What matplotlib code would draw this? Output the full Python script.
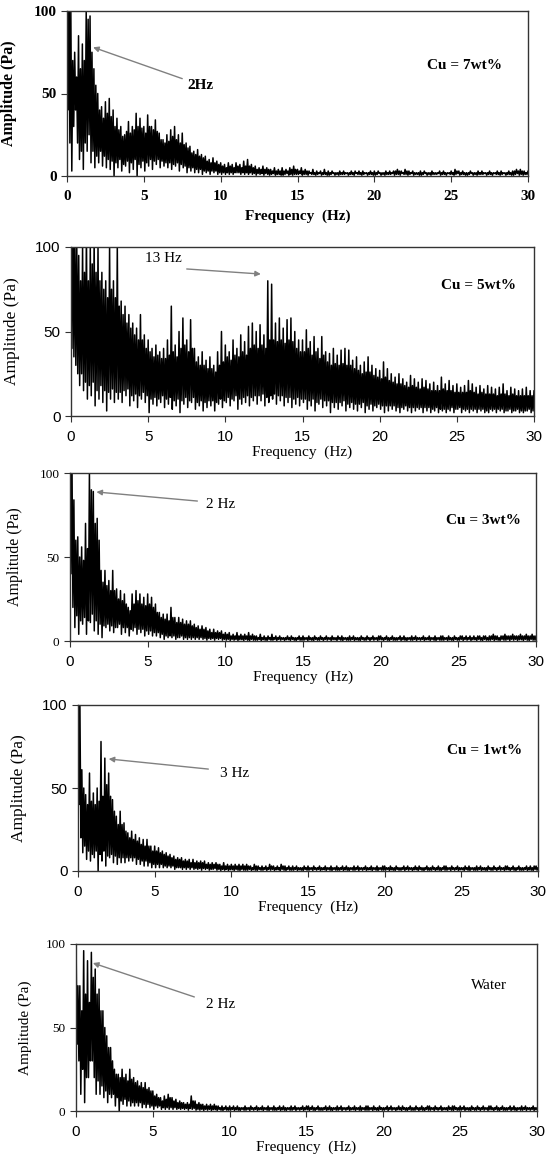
import numpy as np
import matplotlib
matplotlib.use("Agg")
import matplotlib.pyplot as plt

SERIF = "Liberation Serif"
SANS = "Liberation Sans"

# spectrum: max / min amplitude (Pa) in each 0.125 Hz bin,
# one row per 1 Hz (0..29 Hz), then the value at 30 Hz
STEP = 0.125

cu7_hi = [150, 120, 100, 70, 75, 60, 85, 65,
          80, 70, 100, 95, 97, 75, 65, 55,
          50, 40, 42, 35, 45, 38, 47, 36,
          40, 30, 35, 28, 30, 24, 25, 27,
          33, 26, 30, 28, 38, 30, 35, 29,
          30, 26, 37, 30, 30, 28, 34, 27,
          26, 22, 22, 20, 25, 21, 28, 24,
          30, 22, 25, 20, 26, 19, 20, 17,
          18, 14, 15, 13, 16, 12, 13, 11,
          12, 9, 10, 8, 11, 8, 9, 7,
          8, 6, 7, 5, 8, 6, 7, 5,
          8, 6, 7, 5, 9, 6, 10, 6,
          7, 5, 6, 4, 5, 4, 6, 4,
          5, 4, 4, 3, 5, 3, 4, 3,
          5, 3, 4, 3, 5, 4, 6, 4,
          4, 3, 5, 3, 4, 3, 3, 2,
          4, 2, 3, 2, 3, 2, 4, 2,
          3, 2, 3, 2, 2, 2, 3, 2,
          3, 2, 2, 2, 3, 2, 3, 2,
          3, 2, 3, 2, 2, 2, 3, 2,
          3, 2, 3, 2, 2, 2, 3, 2,
          3, 2, 3, 3, 4, 3, 3, 2,
          4, 3, 3, 2, 3, 2, 2, 2,
          3, 2, 3, 2, 2, 2, 3, 2,
          2, 2, 3, 2, 3, 2, 2, 2,
          3, 2, 4, 3, 3, 2, 3, 2,
          2, 2, 3, 2, 2, 2, 3, 2,
          3, 2, 2, 2, 3, 2, 2, 2,
          3, 2, 3, 2, 2, 2, 3, 2,
          3, 3, 4, 3, 4, 3, 3, 2,
          3]
cu7_lo = [40, 20, 3, 30, 40, 20, 10, 15,
          4, 20, 15, 25, 8, 15, 5, 12,
          8, 15, 6, 12, 5, 10, 4, 9,
          0, 8, 5, 10, 3, 7, 6, 9,
          2, 8, 4, 10, 0, 7, 5, 9,
          3, 8, 6, 10, 4, 9, 7, 10,
          5, 9, 6, 8, 5, 8, 4, 7,
          6, 8, 3, 7, 5, 6, 2, 5,
          3, 5, 2, 4, 2, 4, 1, 3,
          2, 3, 1, 3, 2, 3, 1, 2,
          1, 2, 1, 2, 1, 2, 1, 2,
          2, 2, 1, 2, 1, 2, 1, 2,
          1, 1.5, 0.5, 1.5, 1, 1.5, 0.5, 1.5,
          1, 0.5, 1, 1.5, 0.5, 1, 1, 0.5,
          0.5, 1, 1.5, 0.5, 1, 0.5, 1, 1,
          1, 1.5, 0.5, 1, 1, 0.5, 1.5, 1,
          1, 0.5, 1, 1.5, 0.5, 1, 1, 0.5,
          0.5, 1, 1.5, 0.5, 1, 0.5, 1, 1,
          1, 1.5, 0.5, 1, 1, 0.5, 1.5, 1,
          1, 0.5, 1, 1.5, 0.5, 1, 1, 0.5,
          0.5, 1, 1.5, 0.5, 1, 0.5, 1, 1,
          1, 1.5, 0.5, 1, 1, 0.5, 1.5, 1,
          1, 0.5, 1, 1.5, 0.5, 1, 1, 0.5,
          0.5, 1, 1.5, 0.5, 1, 0.5, 1, 1,
          1, 1.5, 0.5, 1, 1, 0.5, 1.5, 1,
          1, 0.5, 1, 1.5, 0.5, 1, 1, 0.5,
          0.5, 1, 1.5, 0.5, 1, 0.5, 1, 1,
          1, 1.5, 0.5, 1, 1, 0.5, 1.5, 1,
          1, 0.5, 1, 1.5, 0.5, 1, 1, 0.5,
          0.5, 1, 1.5, 0.5, 1, 0.5, 1, 1,
          1]

cu5_hi = [150, 130, 110, 100, 95, 80, 100, 85,
          110, 80, 100, 90, 105, 85, 100, 80,
          85, 75, 80, 70, 100, 75, 80, 70,
          100, 65, 68, 60, 65, 55, 60, 52,
          55, 48, 52, 45, 60, 45, 48, 40,
          45, 38, 40, 35, 42, 36, 38, 34,
          40, 34, 45, 36, 65, 38, 42, 35,
          50, 40, 58, 42, 45, 38, 57, 40,
          40, 32, 35, 30, 38, 30, 33, 28,
          35, 28, 30, 26, 38, 30, 50, 32,
          42, 35, 38, 33, 45, 36, 40, 35,
          48, 38, 44, 36, 53, 40, 55, 42,
          50, 40, 54, 42, 48, 40, 80, 45,
          78, 45, 55, 44, 58, 45, 52, 43,
          57, 45, 58, 44, 50, 40, 45, 38,
          45, 38, 51, 40, 44, 36, 47, 38,
          40, 34, 47, 36, 38, 32, 37, 30,
          40, 31, 36, 30, 39, 31, 40, 30,
          39, 30, 33, 28, 35, 27, 30, 25,
          32, 26, 35, 26, 30, 24, 28, 23,
          27, 22, 32, 23, 28, 21, 25, 20,
          23, 19, 25, 19, 22, 18, 20, 17,
          24, 18, 22, 17, 20, 16, 22, 17,
          21, 16, 19, 15, 20, 15, 18, 15,
          23, 16, 19, 15, 21, 15, 18, 14,
          19, 14, 17, 14, 18, 14, 21, 15,
          19, 14, 17, 13, 18, 14, 16, 13,
          18, 13, 17, 13, 16, 12, 17, 13,
          19, 13, 15, 12, 17, 13, 16, 12,
          15, 12, 16, 12, 17, 12, 15, 12,
          15]
cu5_lo = [40, 35, 30, 25, 18, 25, 15, 20,
          10, 18, 12, 20, 6, 15, 10, 18,
          8, 15, 3, 14, 10, 16, 8, 14,
          10, 14, 8, 15, 12, 16, 6, 12,
          9, 13, 5, 12, 10, 14, 8, 12,
          2, 10, 7, 11, 6, 10, 8, 12,
          5, 10, 7, 11, 4, 9, 6, 10,
          2, 9, 7, 11, 5, 9, 8, 11,
          4, 8, 6, 9, 3, 8, 5, 9,
          6, 9, 3, 8, 7, 10, 5, 9,
          8, 11, 6, 10, 9, 12, 4, 10,
          7, 11, 8, 12, 6, 11, 9, 12,
          7, 12, 9, 13, 6, 11, 8, 12,
          10, 13, 7, 12, 9, 12, 6, 11,
          8, 11, 5, 10, 7, 11, 6, 10,
          8, 10, 4, 9, 6, 10, 3, 8,
          7, 10, 5, 9, 6, 9, 2, 8,
          5, 8, 4, 8, 6, 9, 3, 7,
          5, 8, 4, 7, 3, 7, 5, 8,
          2, 6, 4, 7, 3, 6, 5, 7,
          4, 6, 2, 6, 3, 6, 4, 6,
          3, 5, 2, 5, 4, 6, 3, 5,
          2, 5, 3, 5, 4, 5, 2, 5,
          3, 5, 2, 4, 3, 5, 2, 4,
          3, 4, 2, 4, 3, 5, 2, 4,
          4, 5, 2, 4, 3, 4, 2, 4,
          3, 4, 2, 4, 3, 4, 2, 3,
          2, 4, 3, 4, 2, 4, 3, 4,
          2, 3, 3, 4, 2, 3, 3, 4,
          2, 3, 2, 3, 3, 4, 2, 3,
          2]

cu3_hi = [150, 110, 84, 60, 62, 50, 56, 48,
          70, 55, 100, 90, 89, 70, 73, 60,
          42, 35, 42, 33, 36, 30, 42, 30,
          31, 25, 30, 24, 28, 22, 20, 18,
          28, 22, 30, 24, 28, 22, 26, 21,
          28, 22, 26, 20, 22, 17, 17, 14,
          16, 13, 16, 12, 20, 14, 14, 11,
          14, 11, 13, 10, 12, 10, 12, 9,
          10, 8, 9, 7, 9, 7, 8, 6,
          7, 5, 7, 5, 6, 5, 6, 4,
          5, 4, 5, 3, 4, 3, 5, 3,
          4, 3, 4, 3, 5, 3, 4, 3,
          3, 2, 4, 2, 3, 2, 3, 2,
          4, 2, 3, 2, 3, 2, 2, 2,
          3, 2, 3, 2, 2, 2, 3, 2,
          3, 2, 2, 3, 2, 2, 3, 2,
          2, 3, 2, 2, 3, 2, 2, 3,
          2, 2, 3, 2, 3, 2, 2, 2,
          3, 2, 3, 2, 2, 2, 3, 2,
          2, 3, 2, 2, 3, 2, 2, 3,
          3, 2, 2, 3, 2, 2, 3, 2,
          2, 2, 3, 2, 3, 2, 2, 2,
          3, 2, 3, 2, 2, 2, 3, 2,
          2, 3, 2, 2, 3, 2, 2, 3,
          3, 2, 2, 3, 2, 2, 3, 2,
          2, 3, 3, 2, 3, 2, 3, 2,
          3, 2, 3, 3, 2, 3, 3, 2,
          3, 3, 4, 3, 3, 2, 3, 3,
          4, 3, 3, 3, 4, 3, 3, 3,
          4, 3, 3, 4, 3, 3, 4, 3,
          3]
cu3_lo = [40, 20, 8, 15, 4, 12, 10, 14,
          4, 12, 11, 16, 6, 12, 4, 10,
          2, 9, 8, 10, 6, 9, 5, 8,
          8, 10, 4, 8, 5, 8, 3, 7,
          6, 8, 4, 7, 5, 7, 3, 6,
          4, 6, 3, 5, 3, 5, 2, 4,
          1, 3, 2, 3, 2, 3, 1, 2,
          2, 3, 1, 2, 1, 2, 1, 2,
          1, 2, 1, 2, 1, 1.5, 0.5, 1.5,
          1, 1.5, 0.5, 1.5, 1, 1.5, 0.5, 1,
          0.5, 1, 0.3, 1, 0.5, 1, 0.3, 0.8,
          0.8, 0.3, 1, 0.5, 0.3, 1, 0.5, 0.5,
          0.5, 1, 0.3, 0.8, 0.5, 0.3, 1, 0.5,
          0.5, 1, 0.3, 1, 0.5, 1, 0.3, 0.8,
          0.8, 0.3, 1, 0.5, 0.3, 1, 0.5, 0.5,
          0.5, 1, 0.3, 0.8, 0.5, 0.3, 1, 0.5,
          0.5, 1, 0.3, 1, 0.5, 1, 0.3, 0.8,
          0.8, 0.3, 1, 0.5, 0.3, 1, 0.5, 0.5,
          0.5, 1, 0.3, 0.8, 0.5, 0.3, 1, 0.5,
          0.5, 1, 0.3, 1, 0.5, 1, 0.3, 0.8,
          0.8, 0.3, 1, 0.5, 0.3, 1, 0.5, 0.5,
          0.5, 1, 0.3, 0.8, 0.5, 0.3, 1, 0.5,
          0.5, 1, 0.3, 1, 0.5, 1, 0.3, 0.8,
          0.8, 0.3, 1, 0.5, 0.3, 1, 0.5, 0.5,
          0.5, 1, 0.3, 0.8, 0.5, 0.3, 1, 0.5,
          0.5, 1, 0.3, 1, 0.5, 1, 0.3, 0.8,
          0.8, 0.3, 1, 0.5, 0.3, 1, 0.5, 0.5,
          0.5, 1, 0.3, 0.8, 0.5, 0.3, 1, 0.5,
          0.5, 1, 0.3, 1, 0.5, 1, 0.3, 0.8,
          0.8, 0.3, 1, 0.5, 0.3, 1, 0.5, 0.5,
          0.5]

cu1_hi = [150, 100, 61, 50, 46, 40, 59, 42,
          47, 40, 50, 42, 78, 45, 68, 52,
          59, 45, 43, 36, 33, 28, 36, 28,
          29, 24, 23, 20, 24, 19, 22, 18,
          20, 16, 19, 15, 19, 15, 15, 12,
          15, 12, 14, 11, 12, 10, 11, 9,
          10, 8, 9, 7, 8, 7, 8, 6,
          7, 6, 7, 5, 7, 5, 6, 5,
          6, 5, 6, 4, 5, 4, 5, 4,
          5, 4, 4, 3, 5, 3, 4, 3,
          4, 3, 4, 3, 4, 3, 4, 3,
          4, 3, 3, 2, 4, 3, 3, 2,
          3, 2, 3, 2, 4, 3, 3, 2,
          3, 2, 4, 3, 3, 2, 3, 2,
          3, 2, 3, 2, 2, 2, 3, 2,
          3, 2, 2, 3, 2, 2, 3, 2,
          2, 3, 2, 2, 3, 2, 2, 3,
          2, 2, 3, 2, 3, 2, 2, 2,
          3, 2, 3, 2, 2, 2, 3, 2,
          2, 3, 2, 2, 3, 2, 2, 3,
          3, 2, 2, 3, 2, 2, 3, 2,
          2, 2, 3, 2, 3, 2, 2, 2,
          3, 2, 3, 2, 2, 2, 3, 2,
          2, 3, 2, 2, 3, 2, 2, 3,
          3, 2, 2, 3, 2, 2, 3, 2,
          2, 2, 3, 2, 3, 2, 2, 2,
          3, 2, 3, 2, 2, 2, 3, 2,
          2, 3, 2, 2, 3, 2, 2, 3,
          3, 2, 2, 3, 2, 2, 3, 2,
          2, 2, 3, 2, 3, 2, 3, 3,
          2]
cu1_lo = [40, 20, 11, 15, 7, 12, 6, 10,
          8, 12, 0, 10, 6, 12, 3, 9,
          8, 10, 5, 9, 4, 8, 5, 8,
          5, 8, 6, 8, 6, 8, 4, 7,
          4, 6, 3, 6, 3, 5, 2, 4,
          2, 4, 2, 4, 2, 3, 2, 3,
          2, 3, 1, 2, 2, 2, 1, 2,
          1, 2, 1, 2, 1, 1.5, 1, 1.5,
          0.5, 1.5, 1, 1.5, 0.5, 1, 1, 1.5,
          0.5, 1, 0.3, 1, 0.5, 1, 0.3, 0.8,
          0.8, 0.3, 1, 0.5, 0.3, 1, 0.5, 0.5,
          0.5, 1, 0.3, 0.8, 0.5, 0.3, 1, 0.5,
          0.5, 1, 0.3, 1, 0.5, 1, 0.3, 0.8,
          0.8, 0.3, 1, 0.5, 0.3, 1, 0.5, 0.5,
          0.5, 1, 0.3, 0.8, 0.5, 0.3, 1, 0.5,
          0.5, 1, 0.3, 1, 0.5, 1, 0.3, 0.8,
          0.8, 0.3, 1, 0.5, 0.3, 1, 0.5, 0.5,
          0.5, 1, 0.3, 0.8, 0.5, 0.3, 1, 0.5,
          0.5, 1, 0.3, 1, 0.5, 1, 0.3, 0.8,
          0.8, 0.3, 1, 0.5, 0.3, 1, 0.5, 0.5,
          0.5, 1, 0.3, 0.8, 0.5, 0.3, 1, 0.5,
          0.5, 1, 0.3, 1, 0.5, 1, 0.3, 0.8,
          0.8, 0.3, 1, 0.5, 0.3, 1, 0.5, 0.5,
          0.5, 1, 0.3, 0.8, 0.5, 0.3, 1, 0.5,
          0.5, 1, 0.3, 1, 0.5, 1, 0.3, 0.8,
          0.8, 0.3, 1, 0.5, 0.3, 1, 0.5, 0.5,
          0.5, 1, 0.3, 0.8, 0.5, 0.3, 1, 0.5,
          0.5, 1, 0.3, 1, 0.5, 1, 0.3, 0.8,
          0.8, 0.3, 1, 0.5, 0.3, 1, 0.5, 0.5,
          0.5, 1, 0.3, 0.8, 0.5, 0.3, 1, 0.5,
          0.5]

water_hi = [105, 75, 75, 60, 96, 70, 90, 65,
            95, 80, 85, 70, 73, 60, 60, 50,
            45, 38, 38, 30, 25, 22, 22, 20,
            25, 20, 22, 18, 25, 19, 20, 17,
            18, 15, 17, 14, 17, 13, 14, 12,
            12, 9, 10, 8, 8, 6, 9, 7,
            10, 8, 8, 6, 7, 5, 6, 5,
            5, 4, 5, 4, 9, 6, 6, 4,
            5, 4, 4, 3, 4, 3, 4, 3,
            4, 3, 3, 2, 3, 2, 3, 2,
            3, 2, 3, 2, 3, 2, 2, 2,
            3, 2, 2, 3, 2, 2, 3, 2,
            2, 3, 2, 2, 3, 2, 2, 3,
            2, 2, 3, 2, 3, 2, 2, 2,
            3, 2, 3, 2, 2, 2, 3, 2,
            3, 3, 2, 3, 2, 2, 3, 2,
            2, 2, 3, 2, 3, 2, 2, 2,
            3, 2, 3, 2, 2, 2, 3, 2,
            2, 3, 2, 2, 3, 2, 2, 3,
            3, 2, 2, 3, 2, 2, 3, 2,
            2, 2, 3, 2, 3, 2, 2, 2,
            3, 2, 3, 2, 2, 2, 3, 2,
            2, 3, 2, 2, 3, 2, 2, 3,
            3, 2, 2, 3, 2, 2, 3, 2,
            2, 2, 3, 2, 3, 3, 2, 2,
            3, 2, 3, 2, 2, 2, 3, 2,
            2, 3, 2, 2, 3, 2, 2, 3,
            3, 2, 2, 3, 2, 2, 3, 2,
            2, 2, 3, 2, 3, 2, 2, 2,
            3, 2, 3, 2, 2, 2, 3, 2,
            2]
water_lo = [40, 30, 10, 25, 5, 20, 20, 30,
            30, 20, 10, 18, 10, 15, 8, 12,
            5, 10, 8, 10, 3, 8, 0, 6,
            4, 7, 3, 6, 3, 5, 3, 5,
            3, 5, 2, 4, 2, 4, 2, 3,
            1, 3, 2, 3, 1, 2, 1, 2,
            1, 2, 1, 2, 1, 1.5, 1, 1.5,
            1, 1.5, 0.5, 1.5, 1, 1.5, 0.5, 1,
            0.5, 1, 0.3, 1, 0.5, 1, 0.3, 0.8,
            0.8, 0.3, 1, 0.5, 0.3, 1, 0.5, 0.5,
            0.5, 1, 0.3, 0.8, 0.5, 0.3, 1, 0.5,
            0.5, 1, 0.3, 1, 0.5, 1, 0.3, 0.8,
            0.8, 0.3, 1, 0.5, 0.3, 1, 0.5, 0.5,
            0.5, 1, 0.3, 0.8, 0.5, 0.3, 1, 0.5,
            0.5, 1, 0.3, 1, 0.5, 1, 0.3, 0.8,
            0.8, 0.3, 1, 0.5, 0.3, 1, 0.5, 0.5,
            0.5, 1, 0.3, 0.8, 0.5, 0.3, 1, 0.5,
            0.5, 1, 0.3, 1, 0.5, 1, 0.3, 0.8,
            0.8, 0.3, 1, 0.5, 0.3, 1, 0.5, 0.5,
            0.5, 1, 0.3, 0.8, 0.5, 0.3, 1, 0.5,
            0.5, 1, 0.3, 1, 0.5, 1, 0.3, 0.8,
            0.8, 0.3, 1, 0.5, 0.3, 1, 0.5, 0.5,
            0.5, 1, 0.3, 0.8, 0.5, 0.3, 1, 0.5,
            0.5, 1, 0.3, 1, 0.5, 1, 0.3, 0.8,
            0.8, 0.3, 1, 0.5, 0.3, 1, 0.5, 0.5,
            0.5, 1, 0.3, 0.8, 0.5, 0.3, 1, 0.5,
            0.5, 1, 0.3, 1, 0.5, 1, 0.3, 0.8,
            0.8, 0.3, 1, 0.5, 0.3, 1, 0.5, 0.5,
            0.5, 1, 0.3, 0.8, 0.5, 0.3, 1, 0.5,
            0.5, 1, 0.3, 1, 0.5, 1, 0.3, 0.8,
            0.5]

labels = ["Cu = 7wt%", "Cu = 5wt%", "Cu = 3wt%", "Cu = 1wt%", "Water"]
peak_text = ["2Hz", "13 Hz", "2 Hz", "3 Hz", "2 Hz"]
series = [(cu7_hi, cu7_lo), (cu5_hi, cu5_lo), (cu3_hi, cu3_lo),
          (cu1_hi, cu1_lo), (water_hi, water_lo)]

# layout, in pixels of the 555x1161 image: left, right, top, bottom
W, H = 555, 1161
boxes = [(67, 528, 11, 176), (71, 534, 247, 416), (70, 536, 473, 641),
         (78, 538, 705, 871), (76, 537, 944, 1111)]
# (text pos, arrow start, arrow tip) in data units
arrows = [((8.7, 55), (7.5, 59), (1.7, 78)),
          ((6.0, 93), (7.5, 87), (12.3, 84)),
          ((9.7, 81.5), (8.2, 83.3), (1.7, 88.7)),
          ((10.2, 59), (8.5, 61.4), (2.0, 67.5)),
          ((9.4, 64), (7.7, 68.3), (1.1, 88.6))]
label_pos = [(25.9, 67), (26.4, 77.5), (26.6, 72), (26.5, 72.3), (26.9, 75.4)]
xtick_font = [(SERIF, 11), (SANS, 11), (SANS, 11), (SANS, 11), (SANS, 11)]
ytick_font = [(SERIF, 11), (SANS, 11), (SERIF, 9.5), (SANS, 11), (SERIF, 9.5)]
ylab_x = [-0.108, -0.110, -0.101, -0.111, -0.095]
ylab_size = [11.5, 12.5, 11.5, 12.5, 11]


def zigzag(hi, lo):
    f = np.arange(len(hi)) * STEP
    x = np.column_stack([f, f + STEP / 2]).ravel()
    y = np.column_stack([hi, lo]).ravel()
    return x, y


fig = plt.figure(figsize=(W / 100, H / 100), dpi=100)

for i, (hi, lo) in enumerate(series):
    l, r, t, b = boxes[i]
    ax = fig.add_axes([l / W, 1 - b / H, (r - l) / W, (b - t) / H])
    x, y = zigzag(hi, lo)
    ax.plot(x, y, color="black", lw=1.1)
    ax.set_xlim(0, 30)
    ax.set_ylim(0, 100)
    ax.set_xticks([0, 5, 10, 15, 20, 25, 30])
    ax.set_yticks([0, 50, 100])
    bold = "bold" if i == 0 else "normal"
    for s in ax.spines.values():
        s.set_color("#333333")
        s.set_linewidth(1.0)
    ax.tick_params(direction="out", length=4, width=0.8, color="#333333")
    ax.tick_params(axis="x", pad=6)
    for lab in ax.get_xticklabels():
        lab.set_fontfamily(xtick_font[i][0])
        lab.set_fontsize(xtick_font[i][1])
        lab.set_fontweight(bold)
    for lab in ax.get_yticklabels():
        lab.set_fontfamily(ytick_font[i][0])
        lab.set_fontsize(ytick_font[i][1])
        lab.set_fontweight(bold)
    ax.set_xlabel("Frequency  (Hz)", family=SERIF, fontsize=11, weight=bold,
                  labelpad=5 if i == 0 else 1)
    ax.set_ylabel("Amplitude (Pa)", family=SERIF, fontsize=ylab_size[i],
                  weight=bold)
    ax.yaxis.set_label_coords(ylab_x[i], 0.5)

    (tx, ty), start, tip = arrows[i]
    ax.annotate("", xy=tip, xytext=start,
                arrowprops=dict(arrowstyle="-|>", color="#808080", lw=1.0,
                                mutation_scale=8, shrinkA=0, shrinkB=0))
    ax.text(tx, ty, peak_text[i], family=SERIF, fontsize=11, weight=bold,
            ha="center", va="center")
    ax.text(label_pos[i][0], label_pos[i][1], labels[i], family=SERIF,
            fontsize=11, weight="normal" if i == 4 else "bold",
            ha="center", va="center")

fig.savefig("out.png", dpi=100)
